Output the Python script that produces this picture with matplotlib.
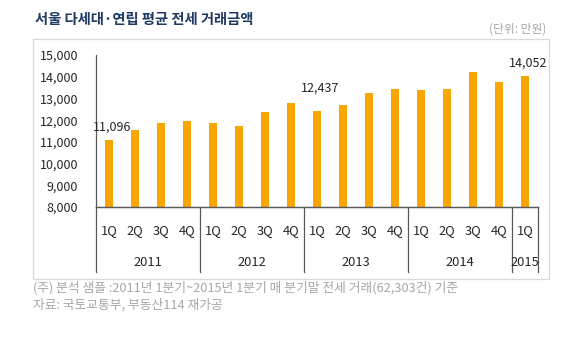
import matplotlib.pyplot as plt
import matplotlib.transforms as mtransforms
from matplotlib.patches import Rectangle

plt.rcParams['font.family'] = ['Noto Sans CJK KR', 'DejaVu Sans']

# quarterly average jeonse price (unit: 10,000 KRW)
quarters = ['1Q', '2Q', '3Q', '4Q'] * 4 + ['1Q']
years = ['2011', '2012', '2013', '2014', '2015']
year_sizes = [4, 4, 4, 4, 1]
prices = [11096, 11550, 11860, 11965, 11890, 11750, 12395, 12790,
          12437, 12690, 13255, 13450, 13405, 13450, 14230, 13770, 14052]
labeled = {0: '11,096', 8: '12,437', 16: '14,052'}
label_offsets = {0: 4.5, 8: 11.5, 16: 4.5}

bar_color = '#F9A602'
line_color = '#595959'

fig = plt.figure(figsize=(5.8, 3.41), dpi=100)
W, H = 580, 341

# light panel border
fig.patches.append(Rectangle((33 / W, 1 - 279 / H), (549 - 33) / W, (279 - 39) / H,
                             transform=fig.transFigure, fill=False,
                             edgecolor='#D9D9D9', linewidth=0.9))

ax = fig.add_axes([96 / W, 1 - 207 / H, (538 - 96) / W, (207 - 55) / H])
x = list(range(len(prices)))
ax.bar(x, [p - 8000 for p in prices], bottom=8000, width=0.32, color=bar_color, zorder=2)

ax.set_xlim(-0.5, len(prices) - 0.5)
ax.set_ylim(8000, 15000)
ax.set_yticks(range(8000, 15001, 1000))
ax.set_yticklabels(['{:,}'.format(v) for v in range(8000, 15001, 1000)])
ax.tick_params(axis='y', length=0, pad=13, labelsize=9, labelcolor='#262626')

ax.set_xticks(x)
ax.set_xticklabels(quarters)
ax.tick_params(axis='x', length=0, pad=12, labelsize=9.3, labelcolor='#262626')

for s in ['top', 'right']:
    ax.spines[s].set_visible(False)
for s in ['left', 'bottom']:
    ax.spines[s].set_color(line_color)
    ax.spines[s].set_linewidth(0.9)

# group separators and year labels below the axis
trans = mtransforms.blended_transform_factory(ax.transData, ax.transAxes)
sep_bottom = -(272 - 207) / (207 - 55)
pos = -0.5
for yr, n in zip(years, year_sizes):
    ax.plot([pos, pos], [0, sep_bottom], transform=trans, color=line_color,
            lw=0.9, clip_on=False)
    ax.text(pos + n / 2, -(262 - 207) / (207 - 55), yr, transform=trans,
            ha='center', va='center', fontsize=9.3, color='#262626')
    pos += n
ax.plot([pos, pos], [0, sep_bottom], transform=trans, color=line_color,
        lw=0.9, clip_on=False)
ax.plot([-0.5, pos], [0, 0], transform=trans, color=line_color, lw=0.9, clip_on=False)

for i, txt in labeled.items():
    ax.annotate(txt, (i, prices[i]), xytext=(2, label_offsets[i]), textcoords='offset points',
                ha='center', va='bottom', fontsize=9, color='#262626')

fig.text(35 / W, 1 - 20 / H, '서울 다세대·연립 평균 전세 거래금액', ha='left', va='center',
         fontsize=10.3, fontweight='bold', color='#1F3864')
fig.text(546 / W, 1 - 29 / H, '(단위: 만원)', ha='right', va='center',
         fontsize=8.5, color='#A6A6A6')
fig.text(33 / W, 1 - 288 / H,
         '(주) 분석 샘플 :2011년 1분기~2015년 1분기 매 분기말 전세 거래(62,303건) 기준',
         ha='left', va='center', fontsize=9.2, color='#A6A6A6')
fig.text(33 / W, 1 - 305 / H, '자료: 국토교통부, 부동산114 재가공', ha='left', va='center',
         fontsize=9.2, color='#A6A6A6')

fig.savefig('out.png', dpi=100)
